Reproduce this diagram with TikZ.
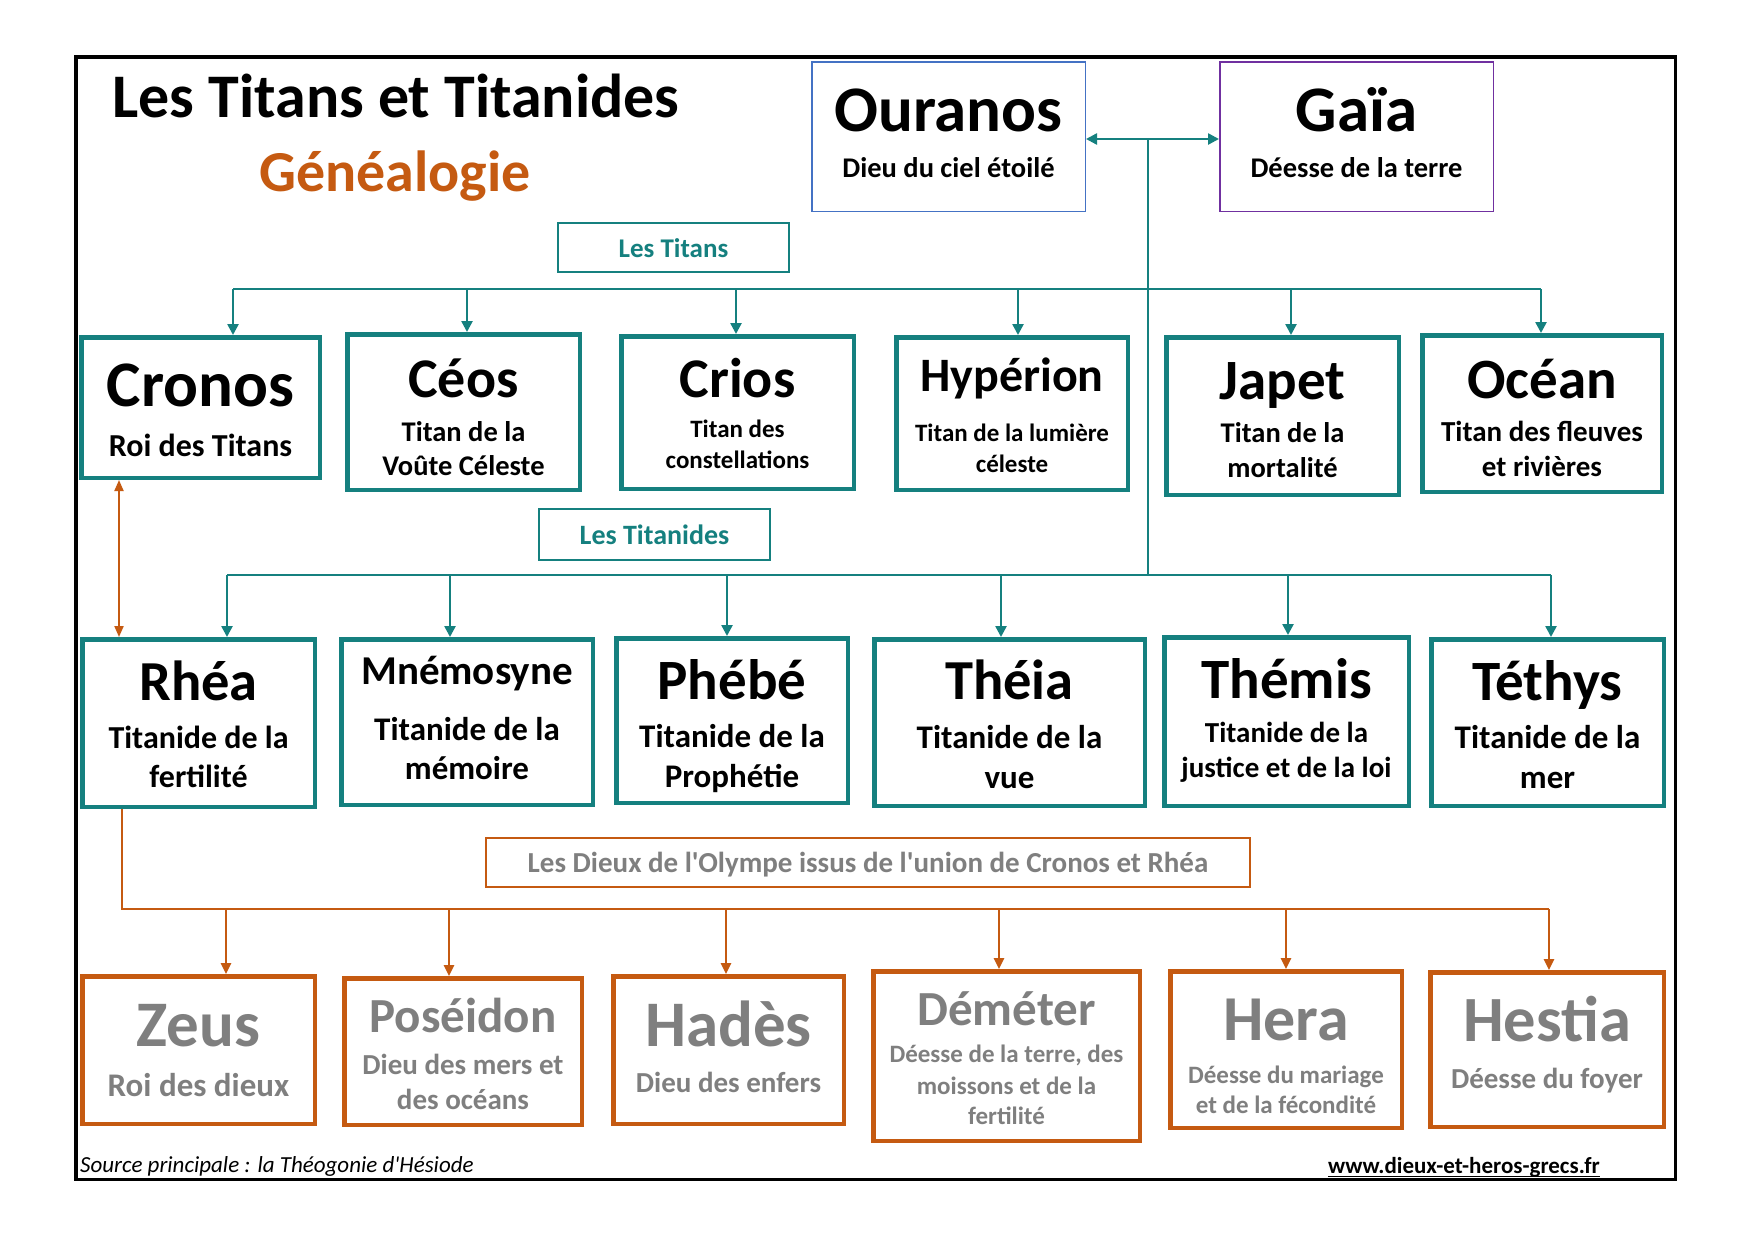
\documentclass[tikz,border=0pt]{standalone}
\usepackage{fontspec}
\setmainfont{Carlito}[Ligatures=TeXOff]
\usetikzlibrary{arrows.meta}
\definecolor{tealc}{HTML}{15807F}
\definecolor{orng}{HTML}{C55A11}
\definecolor{grayt}{HTML}{7F7F7F}
\definecolor{ourblue}{HTML}{4472C4}
\definecolor{gaiapurple}{HTML}{7030A0}
\newcommand\fsz[1]{\fontsize{#1}{#1}\selectfont}
% box: name, style, x1, y1, x2, y2, line width
\newcommand\bx[7]{\node[#2,line width=#7pt,inner sep=0pt,minimum width={(#5-#3-#7)*1pt},minimum height={(#6-#4-#7)*1pt}] (#1) at ({(#3+#5)/2},{(#4+#6)/2}) {};}
% label: name, size, x, cap-middle y, text, colour
\newcommand\lbl[6]{\node[inner sep=0pt,anchor=base,font={\fsz{#2}\bfseries},text=#6] (#1) at (#3,{#4+0.316*#2}) {#5};}
\begin{document}
\begin{tikzpicture}[x=1pt,y=-1pt,
  frm/.style={draw=black},
  tbox/.style={draw=tealc},
  obox/.style={draw=orng},
  tline/.style={draw=tealc,line width=2.5pt},
  oline/.style={draw=orng,line width=2.5pt},
  tarr/.style={tline,-{Triangle[length=11pt,width=11pt]}},
  tdarr/.style={tline,{Triangle[length=11pt,width=11pt]}-{Triangle[length=11pt,width=11pt]}},
  oarr/.style={oline,-{Triangle[length=11pt,width=10pt]}},
  odarr/.style={draw=orng,line width=2pt,{Triangle[length=11pt,width=9pt]}-{Triangle[length=11pt,width=9pt]}}]
\useasboundingbox (0,0) rectangle (1754,1240);
\fill[white] (0,0) rectangle (1754,1240);
\bx{frame}{frm}{74}{55}{1677}{1181}{3.5}

% titles
\lbl{title}{62}{396}{97.5}{Les Titans et Titanides}{black}
\lbl{subtitle}{58}{395}{173}{Généalogie}{orng}

% Ouranos and Gaia
\bx{ouranos}{draw=ourblue}{811}{61}{1086}{212}{1.5}
\lbl{ouranosN}{65}{948.5}{111}{Ouranos}{black}
\lbl{ouranosS}{28.5}{948.5}{168.5}{Dieu du ciel étoilé}{black}
\bx{gaia}{draw=gaiapurple}{1219}{61}{1494}{212}{1.5}
\lbl{gaiaN}{65}{1356.5}{111}{Gaïa}{black}
\lbl{gaiaS}{28.5}{1356.5}{168.5}{Déesse de la terre}{black}

% group labels
\bx{titansL}{tbox}{557}{222}{790}{273}{2.2}
\lbl{titansT}{27}{673.5}{249}{Les Titans}{tealc}
\bx{titanidesL}{tbox}{538}{508}{771}{561}{2.2}
\lbl{titanidesT}{28}{654.5}{536}{Les Titanides}{tealc}
\bx{dieuxL}{obox}{485}{837}{1251}{888}{2}
\lbl{dieuxT}{29}{868}{863.5}{Les Dieux de l'Olympe issus de l'union de Cronos et Rhéa}{grayt}

% Titans
\bx{cronos}{tbox}{79}{335}{322}{480}{4.5}
\lbl{cronosN}{65}{200.5}{386}{Cronos}{black}
\lbl{cronosS}{32}{200.5}{446.5}{Roi des Titans}{black}
\bx{ceos}{tbox}{345}{332}{582}{492}{4.5}
\lbl{ceosN}{56}{463.5}{379.5}{Céos}{black}
\lbl{ceosS1}{28.5}{463.5}{432}{Titan de la}{black}
\lbl{ceosS2}{28.5}{463.5}{466.5}{Voûte Céleste}{black}
\bx{crios}{tbox}{619}{334}{856}{491}{4.5}
\lbl{criosN}{56}{737.5}{380}{Crios}{black}
\lbl{criosS1}{25}{737.5}{430}{Titan des}{black}
\lbl{criosS2}{25}{737.5}{461}{constellations}{black}
\bx{hyperion}{tbox}{894}{335}{1130}{492}{4.5}
\lbl{hyperionN}{48}{1012}{376}{Hypérion}{black}
\lbl{hyperionS1}{25}{1012}{434}{Titan de la lumière}{black}
\lbl{hyperionS2}{25}{1012}{465}{céleste}{black}
\bx{japet}{tbox}{1164}{335}{1401}{497}{4.5}
\lbl{japetN}{57}{1282.5}{381}{Japet}{black}
\lbl{japetS1}{28.5}{1282.5}{433}{Titan de la}{black}
\lbl{japetS2}{28.5}{1282.5}{468}{mortalité}{black}
\bx{ocean}{tbox}{1420}{333}{1664}{494}{4.5}
\lbl{oceanN}{57}{1542}{380}{Océan}{black}
\lbl{oceanS1}{29}{1542}{432}{Titan des fleuves}{black}
\lbl{oceanS2}{29}{1542}{467}{et rivières}{black}

% Titanides
\bx{rhea}{tbox}{80}{637}{317}{809}{4.5}
\lbl{rheaN}{56.5}{198.5}{683}{Rhéa}{black}
\lbl{rheaS1}{32}{198.5}{738}{Titanide de la}{black}
\lbl{rheaS2}{32}{198.5}{777.5}{fertilité}{black}
\bx{mnemo}{tbox}{339}{637}{595}{807}{4.5}
\lbl{mnemoN}{41}{467}{672}{Mnémosyne}{black}
\lbl{mnemoS1}{33}{467}{730}{Titanide de la}{black}
\lbl{mnemoS2}{33}{467}{769.5}{mémoire}{black}
\bx{phebe}{tbox}{614}{636}{850}{805}{4.5}
\lbl{phebeN}{57}{732}{681.5}{Phébé}{black}
\lbl{phebeS1}{33}{732}{737}{Titanide de la}{black}
\lbl{phebeS2}{33}{732}{777.5}{Prophétie}{black}
\bx{theia}{tbox}{872}{637}{1147}{808}{4.5}
\lbl{theiaN}{56.5}{1009.5}{681.5}{Théia}{black}
\lbl{theiaS1}{33}{1009.5}{738}{Titanide de la}{black}
\lbl{theiaS2}{33}{1009.5}{778}{vue}{black}
\bx{themis}{tbox}{1162}{635}{1411}{808}{4.5}
\lbl{themisN}{57}{1286.5}{680}{Thémis}{black}
\lbl{themisS1}{29}{1286.5}{733.5}{Titanide de la}{black}
\lbl{themisS2}{29}{1286.5}{768.5}{justice et de la loi}{black}
\bx{tethys}{tbox}{1429}{637}{1666}{808}{4.5}
\lbl{tethysN}{57}{1547.5}{682}{Téthys}{black}
\lbl{tethysS1}{33}{1547.5}{738.5}{Titanide de la}{black}
\lbl{tethysS2}{33}{1547.5}{778}{mer}{black}

% Olympians
\bx{zeus}{obox}{80}{974}{317}{1126}{4.5}
\lbl{zeusN}{65}{198.5}{1026}{Zeus}{grayt}
\lbl{zeusS}{33}{198.5}{1086.5}{Roi des dieux}{grayt}
\bx{poseidon}{obox}{342}{976}{584}{1127}{4.5}
\lbl{poseidonN}{49}{463}{1017}{Poséidon}{grayt}
\lbl{poseidonS1}{29}{463}{1065}{Dieu des mers et}{grayt}
\lbl{poseidonS2}{29}{463}{1100}{des océans}{grayt}
\bx{hades}{obox}{611}{974}{846}{1126}{4.5}
\lbl{hadesN}{65}{728.5}{1026}{Hadès}{grayt}
\lbl{hadesS}{29}{728.5}{1083.5}{Dieu des enfers}{grayt}
\bx{demeter}{obox}{871}{969}{1142}{1143}{4.5}
\lbl{demeterN}{49}{1006.5}{1010.5}{Déméter}{grayt}
\lbl{demeterS1}{25}{1006.5}{1055}{Déesse de la terre, des}{grayt}
\lbl{demeterS2}{25}{1006.5}{1087}{moissons et de la}{grayt}
\lbl{demeterS3}{25}{1006.5}{1117}{fertilité}{grayt}
\bx{hera}{obox}{1168}{969}{1404}{1130}{4.5}
\lbl{heraN}{64}{1286}{1020.5}{Hera}{grayt}
\lbl{heraS1}{25}{1286}{1076}{Déesse du mariage}{grayt}
\lbl{heraS2}{25}{1286}{1105.5}{et de la fécondité}{grayt}
\bx{hestia}{obox}{1428}{970}{1666}{1129}{4.5}
\lbl{hestiaN}{64.5}{1547}{1021}{Hestia}{grayt}
\lbl{hestiaS}{29}{1547}{1079.5}{Déesse du foyer}{grayt}

% Ouranos - Gaia union and trunk
\coordinate (og) at (1148,139);
\coordinate (tdb) at (1148,575);
\draw[tdarr] (og -| ouranos.east) -- (og -| gaia.west);
\draw[tline] (og) -- (tdb);

% Titans bus
\coordinate (tbL) at (233,289);
\coordinate (tbR) at (1541,289);
\draw[tline] (tbL) -- (tbR);
\coordinate (t1) at (233,289);
\coordinate (t2) at (467,289);
\coordinate (t3) at (736,289);
\coordinate (t4) at (1018,289);
\coordinate (t5) at (1291,289);
\coordinate (t6) at (1541,289);
\draw[tarr] (t1) -- (t1 |- cronos.north);
\draw[tarr] (t2) -- (t2 |- ceos.north);
\draw[tarr] (t3) -- (t3 |- crios.north);
\draw[tarr] (t4) -- (t4 |- hyperion.north);
\draw[tarr] (t5) -- (t5 |- japet.north);
\draw[tarr] (t6) -- (t6 |- ocean.north);

% Titanides bus
\coordinate (dbL) at (227,575);
\coordinate (dbR) at (1551,575);
\draw[tline] (dbL) -- (dbR);
\coordinate (d1) at (227,575);
\coordinate (d2) at (450,575);
\coordinate (d3) at (727,575);
\coordinate (d4) at (1001,575);
\coordinate (d5) at (1288,575);
\coordinate (d6) at (1551,575);
\draw[tarr] (d1) -- (d1 |- rhea.north);
\draw[tarr] (d2) -- (d2 |- mnemo.north);
\draw[tarr] (d3) -- (d3 |- phebe.north);
\draw[tarr] (d4) -- (d4 |- theia.north);
\draw[tarr] (d5) -- (d5 |- themis.north);
\draw[tarr] (d6) -- (d6 |- tethys.north);

% Cronos - Rhea union
\coordinate (cr) at (119,600);
\draw[odarr] (cr |- cronos.south) -- (cr |- rhea.north);

% Olympians bus
\coordinate (obL) at (122,909);
\coordinate (obR) at (1549,909);
\draw[oline] (obL |- rhea.south) -- (obL) -- (obR);
\coordinate (o1) at (226,909);
\coordinate (o2) at (449,909);
\coordinate (o3) at (726,909);
\coordinate (o4) at (999,909);
\coordinate (o5) at (1286,909);
\coordinate (o6) at (1549,909);
\draw[oarr] (o1) -- (o1 |- zeus.north);
\draw[oarr] (o2) -- (o2 |- poseidon.north);
\draw[oarr] (o3) -- (o3 |- hades.north);
\draw[oarr] (o4) -- (o4 |- demeter.north);
\draw[oarr] (o5) -- (o5 |- hera.north);
\draw[oarr] (o6) -- (o6 |- hestia.north);

% footer
\node[anchor=base west,inner sep=0pt,font={\fsz{23}\itshape}] (source) at (80,1172) {Source principale : la Théogonie d'Hésiode};
\node[anchor=base,inner sep=0pt,font={\fsz{23}\bfseries}] (url) at (1464,1173) {www.dieux-et-heros-grecs.fr};
\draw[line width=1.8pt] ([yshift=-3.5pt]url.base west) -- ([yshift=-3.5pt]url.base east);
\end{tikzpicture}
\end{document}
